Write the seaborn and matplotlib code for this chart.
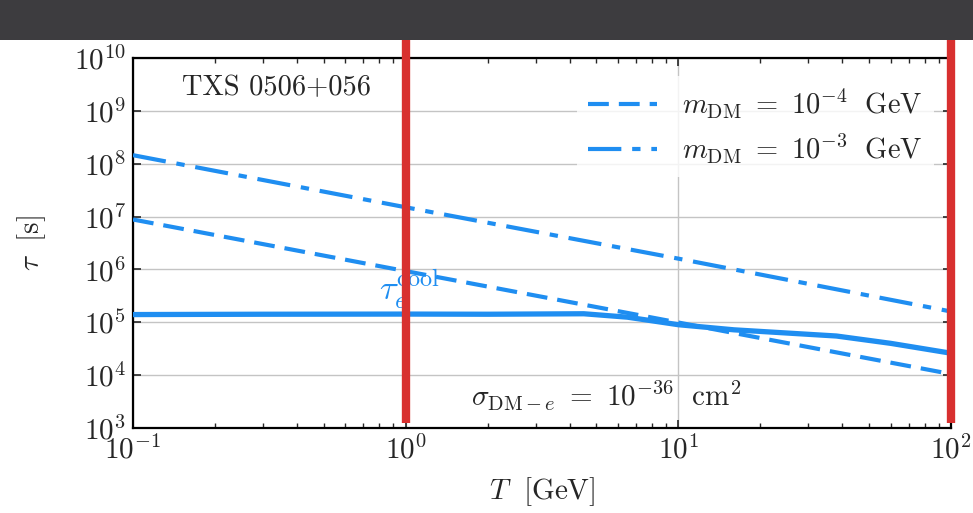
import numpy as np
import pandas as pd
import matplotlib
matplotlib.use("Agg")
import matplotlib.pyplot as plt
from matplotlib.patches import Rectangle
from matplotlib.ticker import LogLocator, NullLocator
import seaborn as sns

# ---------------- data ----------------
T_cool = [0.1, 0.3, 1.0, 2.0, 4.5, 6.5, 10.0, 16.0, 38.0, 60.0, 100.0]
tau_cool = [1.40e5, 1.42e5, 1.43e5, 1.42e5, 1.45e5, 1.25e5, 9.0e4, 7.2e4, 5.5e4, 4.0e4, 2.6e4]

T_dm = [0.1, 1.0, 10.0, 100.0]
tau_m4 = [8.8e6, 9.3e5, 9.9e4, 1.05e4]      # m_DM = 1e-4 GeV
tau_m3 = [1.45e8, 1.5e7, 1.6e6, 1.6e5]      # m_DM = 1e-3 GeV

legend_labels = [r"$m_{\rm DM}\ =\ 10^{-4}\ \ {\rm GeV}$",
                 r"$m_{\rm DM}\ =\ 10^{-3}\ \ {\rm GeV}$"]
source_label = "TXS 0506+056"
cool_label = r"$\tau_e^{\rm cool}$"
sigma_label = r"$\sigma_{{\rm DM}-e}\ =\ 10^{-36}\ \ {\rm cm}^2$"
xlabel = r"$T\ \ [{\rm GeV}]$"
ylabel = r"$\tau\ \ [{\rm s}]$"
red_marks_T = [1.0, 100.0]

# ---------------- style ----------------
sns.set_style("ticks")
plt.rcParams["font.family"] = ["serif"]
plt.rcParams["font.serif"] = ["cmr10", "DejaVu Serif"]
plt.rcParams["mathtext.fontset"] = "cm"
plt.rcParams["axes.formatter.use_mathtext"] = True
plt.rcParams["axes.unicode_minus"] = False

blue = "#1f8ef1"
red = "#d8302f"

fig = plt.figure(figsize=(9.73, 5.13), dpi=100)
fig.patch.set_facecolor("white")
fig.patches.append(Rectangle((0, 1 - 40 / 513), 1, 40 / 513, transform=fig.transFigure,
                             facecolor="#3d3c3f", edgecolor="none", zorder=0))

ax = fig.add_axes([133 / 973, (513 - 428) / 513, (951 - 133) / 973, (428 - 58) / 513])
ax.set_facecolor("white")

df_cool = pd.DataFrame({"T": T_cool, "tau": tau_cool})
df_dm = pd.DataFrame({"T": T_dm, "m4": tau_m4, "m3": tau_m3})

sns.lineplot(data=df_cool, x="T", y="tau", ax=ax, color=blue, linewidth=3.8,
             solid_capstyle="butt", zorder=3)
sns.lineplot(data=df_dm, x="T", y="m4", ax=ax, color=blue, linewidth=3.0,
             linestyle=(0, (5.0, 2.4)), label=legend_labels[0], zorder=3)
sns.lineplot(data=df_dm, x="T", y="m3", ax=ax, color=blue, linewidth=3.0,
             linestyle=(0, (8.0, 2.6, 2.0, 2.6)), label=legend_labels[1], zorder=3)

ax.set_xscale("log")
ax.set_yscale("log")
ax.set_xlim(0.1, 100)
ax.set_ylim(1e3, 1e10)
ax.yaxis.set_major_locator(LogLocator(base=10, numticks=20))
ax.yaxis.set_minor_locator(NullLocator())
ax.xaxis.set_major_locator(LogLocator(base=10, numticks=10))
ax.xaxis.set_minor_locator(LogLocator(base=10, subs=np.arange(2, 10), numticks=20))

ax.grid(True, which="major", color="#c4c4c4", linewidth=1.0, zorder=0)
ax.tick_params(which="both", direction="in", top=True, right=True, labelsize=21)
ax.tick_params(which="major", length=6, width=1.2, pad=5)
ax.tick_params(which="minor", length=3.5, width=1.0)
for s in ax.spines.values():
    s.set_linewidth(1.6)
    s.set_color("black")

ax.set_xlabel(xlabel, fontsize=21, labelpad=8)
ax.set_ylabel(ylabel, fontsize=21, labelpad=19)

ax.text(0.06, 0.919, source_label, transform=ax.transAxes, fontsize=20.5,
        ha="left", va="center")
ax.text(0.413, 0.086, sigma_label, transform=ax.transAxes, fontsize=21,
        ha="left", va="center")
ax.text(0.80, 4.2e5, cool_label, color=blue, fontsize=25, ha="left", va="center")

leg = ax.legend(loc="upper right", fontsize=20.5, frameon=True, framealpha=0.8,
                edgecolor="none", facecolor="white", handlelength=2.4,
                borderaxespad=0.3, labelspacing=0.4, handletextpad=0.9,
                bbox_to_anchor=(0.99, 0.975))
leg.get_frame().set_boxstyle("square", pad=0)

for xv, top in zip(red_marks_T, [1.135, 1.122]):
    ax.axvline(xv, ymin=0.0135, ymax=top, color=red, linewidth=6,
               clip_on=False, zorder=10, solid_capstyle="butt")

fig.savefig("out.png", dpi=100, facecolor=fig.get_facecolor())
